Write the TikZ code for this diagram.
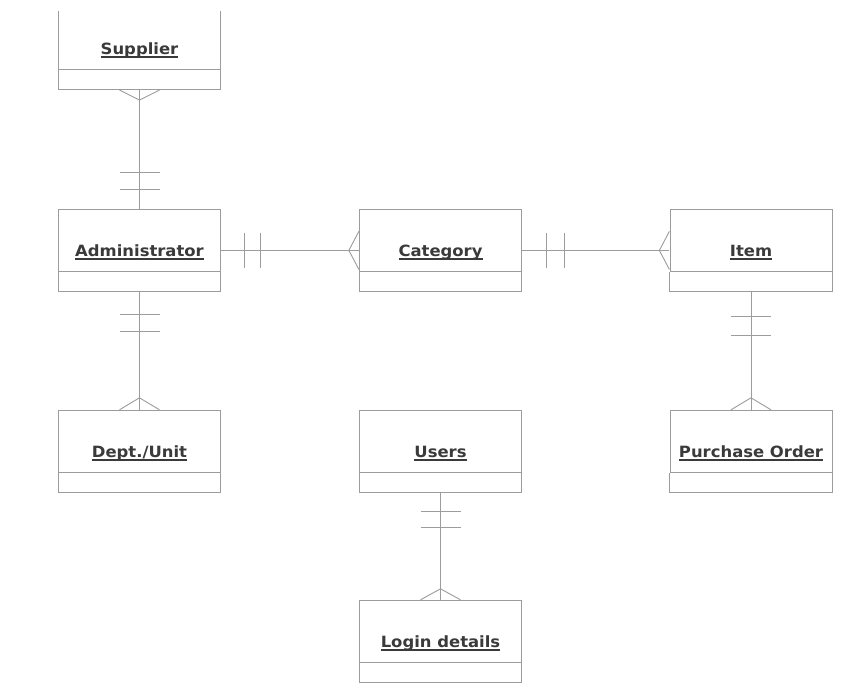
\documentclass[tikz,border=0pt]{standalone}
\usepackage{fontspec}
\setmainfont{DejaVu Sans}[BoldFeatures={FakeStretch=1.06}]
\usetikzlibrary{calc,fit}
\definecolor{edge}{HTML}{9C9C9C}
\definecolor{ink}{HTML}{3A3A3A}
% entity title: bold text with a heavy underline
\newcommand\entlabel[1]{\setbox0\hbox{\bfseries #1}\rlap{\color{ink}\rule[-3.2pt]{\wd0}{1.3pt}}\box0}
\tikzset{
  head/.style={draw=edge, line width=0.9pt, minimum width=162pt, minimum height=62pt,
    inner sep=0pt, text height=47pt, text depth=15pt, text=ink,
    font=\fontsize{15.5}{18}\selectfont, anchor=north},
  attr/.style={minimum width=162pt, minimum height=19.5pt, inner sep=0pt, anchor=north},
  whole/.style={inner sep=0pt, draw=none},
  rel/.style={draw=edge, line width=0.9pt}
}
% an entity box: #1 name, #2 top centre, #3 title
\newcommand\erbox[3]{%
  \node[head] (#1h) at (#2) {\entlabel{#3}};
  \node[attr] (#1a) at (#1h.south) {};
  \draw[rel] (#1a.north west) |- (#1a.south east) -- (#1a.north east);
  \node[whole, fit=(#1h)(#1a)] (#1) {};
}
\begin{document}
\begin{tikzpicture}[x=1pt,y=1pt]
\useasboundingbox (0,0) rectangle (853,-689);
\fill[white] (0,0) rectangle (853,-689);
\clip (0,-11) rectangle (853,-689);

\erbox{sup}{139.5,-7}{Supplier}
\erbox{adm}{139.5,-209}{Administrator}
\erbox{cat}{440.5,-209}{Category}
\erbox{itm}{751,-209}{Item}
\erbox{dep}{139.5,-410}{Dept./Unit}
\erbox{usr}{440.5,-410}{Users}
\erbox{por}{751,-410}{Purchase Order}
\erbox{log}{440.5,-600}{Login details}

% Supplier (many) -- Administrator (one)
\draw[rel] (sup) -- (adm);
\draw[rel] ($(adm.north)+(-20,19)$) -- ++(40,0);
\draw[rel] ($(adm.north)+(-20,36)$) -- ++(40,0);
\draw[rel] ($(sup.south)+(-20,0)$) -- ($(sup.south)+(0,-10)$) -- ($(sup.south)+(20,0)$);

% Administrator (one) -- Category (many)
\draw[rel] (adm) -- (cat);
\draw[rel] ($(adm.east)+(23,17)$) -- ++(0,-35);
\draw[rel] ($(adm.east)+(39,17)$) -- ++(0,-35);
\draw[rel] ($(cat.west)+(0,19)$) -- ($(cat.west)+(-10,0)$) -- ($(cat.west)+(0,-19)$);

% Category (one) -- Item (many)
\draw[rel] (cat) -- (itm);
\draw[rel] ($(cat.east)+(24,17)$) -- ++(0,-35);
\draw[rel] ($(cat.east)+(42,17)$) -- ++(0,-35);
\draw[rel] ($(itm.west)+(0,19)$) -- ($(itm.west)+(-10,0)$) -- ($(itm.west)+(0,-19)$);

% Administrator (one) -- Dept./Unit (many)
\draw[rel] (adm) -- (dep);
\draw[rel] ($(adm.south)+(-20,-22)$) -- ++(40,0);
\draw[rel] ($(adm.south)+(-20,-39)$) -- ++(40,0);
\draw[rel] ($(dep.north)+(-20,0)$) -- ($(dep.north)+(0,12)$) -- ($(dep.north)+(20,0)$);

% Item (one) -- Purchase Order (many)
\draw[rel] (itm) -- (por);
\draw[rel] ($(itm.south)+(-20,-24)$) -- ++(40,0);
\draw[rel] ($(itm.south)+(-20,-43)$) -- ++(40,0);
\draw[rel] ($(por.north)+(-20,0)$) -- ($(por.north)+(0,12)$) -- ($(por.north)+(20,0)$);

% Users (one) -- Login details (many)
\draw[rel] (usr) -- (log);
\draw[rel] ($(usr.south)+(-20,-18)$) -- ++(40,0);
\draw[rel] ($(usr.south)+(-20,-34)$) -- ++(40,0);
\draw[rel] ($(log.north)+(-20,0)$) -- ($(log.north)+(0,11)$) -- ($(log.north)+(20,0)$);
\end{tikzpicture}
\end{document}
